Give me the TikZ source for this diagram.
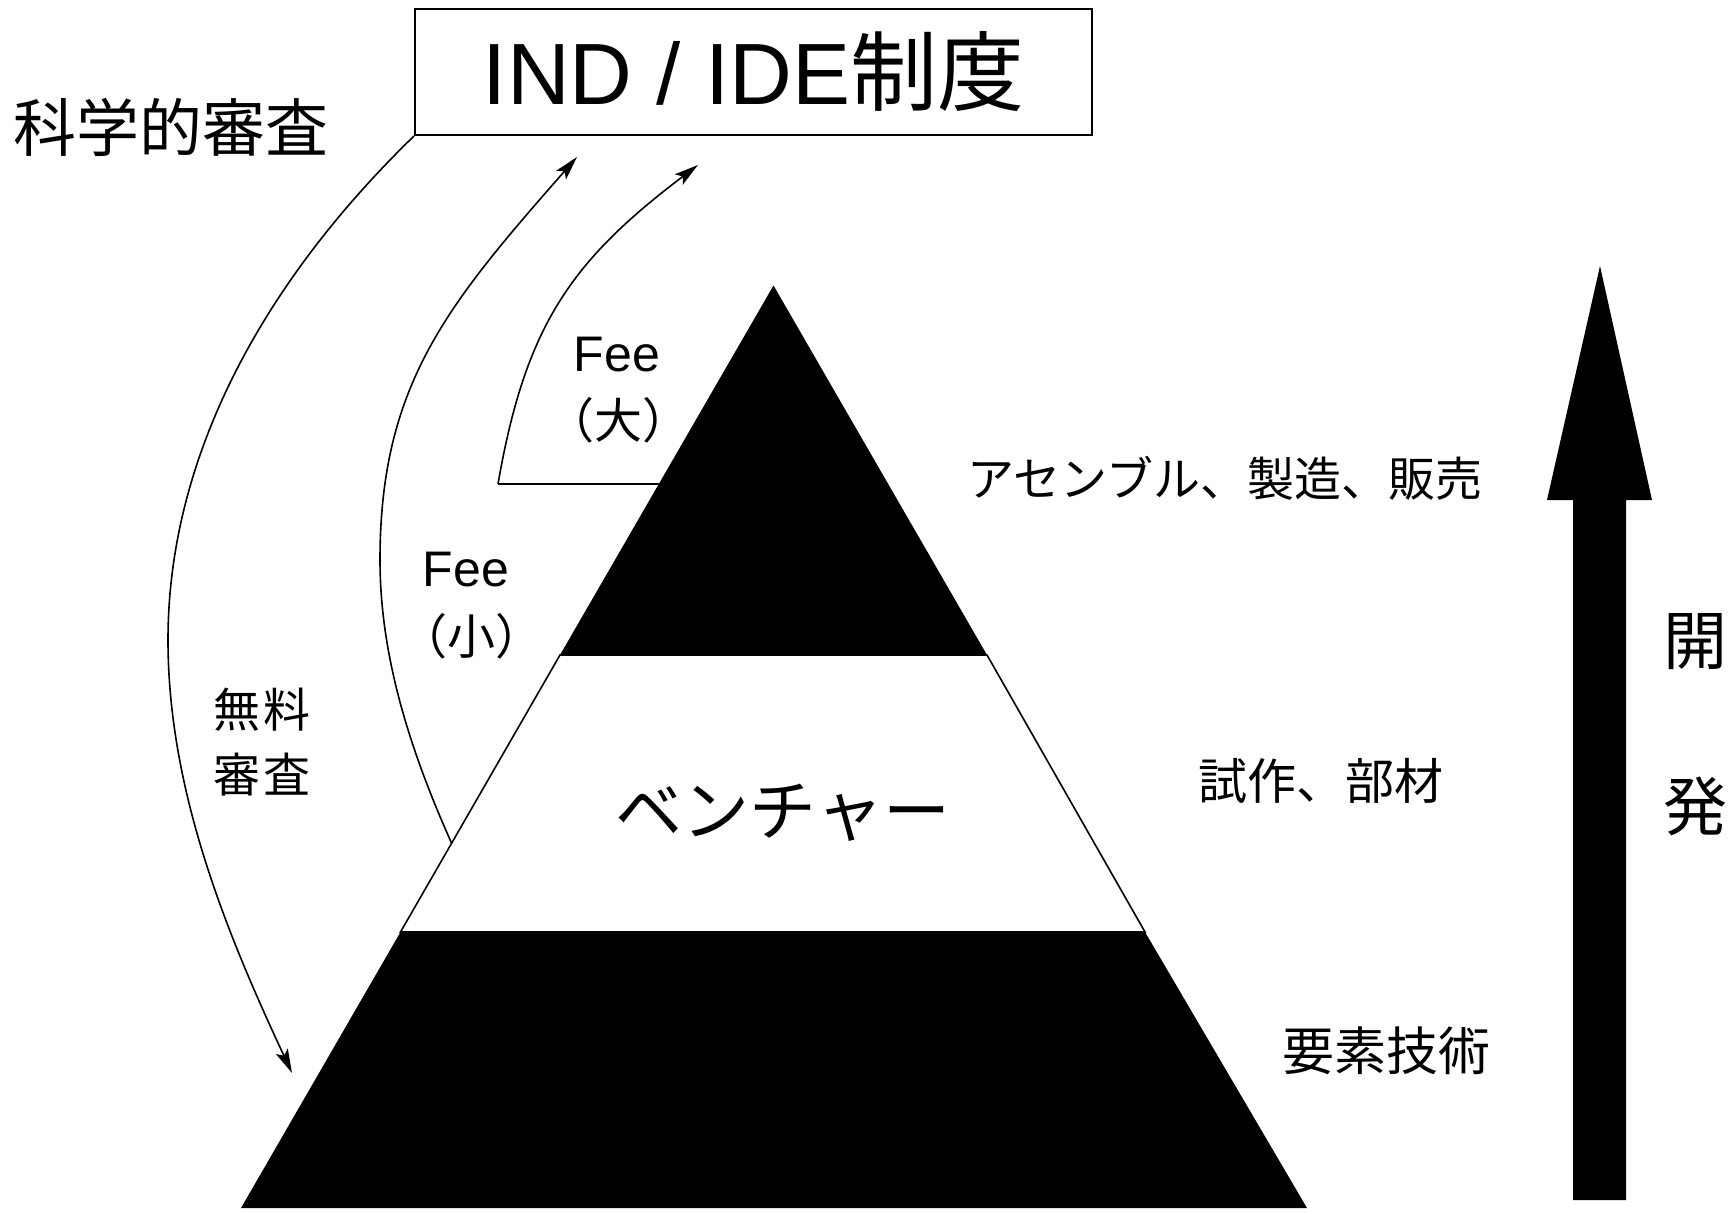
\documentclass[tikz,border=0pt]{standalone}
\usepackage{fontspec}
\setmainfont{Noto Sans CJK JP}
\newfontfamily\latinsans{Liberation Sans}
\usetikzlibrary{arrows.meta}
\begin{document}
\begin{tikzpicture}[x=1pt,y=-1pt,
  thinline/.style={line width=1.6pt},
  arr/.style={thinline,-{Stealth[length=24pt,width=13pt,inset=5pt]}},
  lbl/.style={inner sep=0pt,anchor=center}]
\useasboundingbox (0,0) rectangle (1735,1213);
% pyramid
\coordinate (apex) at (773.5,285.5);
\coordinate (l1) at (560,655);
\coordinate (r1) at (987,655);
\coordinate (l2) at (400.5,932);
\coordinate (r2) at (1145,932);
\coordinate (bl) at (241,1208);
\coordinate (br) at (1307,1208);
\fill[black] (apex) -- (l1) -- (r1) -- cycle;
\fill[black] (l2) -- (bl) -- (br) -- (r2) -- cycle;
\draw[thinline] (l1) -- (l2) -- (r2) -- (r1) -- cycle;
% box
\node[draw,line width=2pt,minimum width=677pt,minimum height=126pt,inner sep=0pt] (box) at (753.5,72)
  {\fontsize{87pt}{87pt}\selectfont {\latinsans IND / IDE}制度};
% left label
\node[lbl] (kagaku) at (171,127) {\fontsize{63pt}{63pt}\selectfont 科学的審査};
% arcs
\coordinate (a1s) at (box.south west);
\coordinate (a1m) at (168,640);
\coordinate (a1e) at (292,1073);
\draw[arr] (a1s) .. controls (273.7,272) and (168,446) .. (a1m)
  .. controls (168,792) and (227.8,935.5) .. (a1e);
\coordinate (a2s) at (451.5,843);
\coordinate (a2m) at (380,560);
\coordinate (a2e) at (577,157);
\draw[arr] (a2s) .. controls (411.4,753.2) and (380,658.4) .. (a2m)
  .. controls (380,385) and (447,305) .. (a2e);
\coordinate (a3c) at (498,484);
\coordinate (a3p) at (659,484);
\coordinate (a3e) at (698,165);
\draw[thinline] (a3p) -- (a3c);
\draw[arr] (a3c) .. controls (525.5,325.4) and (571,261.1) .. (a3e);
% fee labels
\node[lbl] (fee1) at (617,355) {\fontsize{50pt}{50pt}\selectfont\latinsans Fee};
\node[lbl] (fee1b) at (618,420) {\fontsize{48pt}{48pt}\selectfont （大）};
\node[lbl] (fee2) at (466,570) {\fontsize{50pt}{50pt}\selectfont\latinsans Fee};
\node[lbl] (fee2b) at (471,636) {\fontsize{48pt}{48pt}\selectfont （小）};
\node[lbl,align=center,font=\fontsize{47pt}{65pt}\selectfont] (muryo) at (262,742) {無\kern4pt 料\\審\kern4pt 査};
% venture
\node[lbl] (venture) at (783,813) {\fontsize{67pt}{67pt}\selectfont ベンチャー};
% right labels
\node[lbl] (t1) at (1225,478) {\fontsize{47pt}{47pt}\selectfont アセンブル、製造、販売};
\node[lbl] (t2) at (1321,781) {\fontsize{49pt}{49pt}\selectfont 試作、部材};
\node[lbl] (t3) at (1386,1051) {\fontsize{52pt}{52pt}\selectfont 要素技術};
% big arrow
\coordinate (ba) at (1600,266);
\fill[black] (1573,1200) -- (1573,500) -- (1547,500) -- (ba) -- (1652,500) -- (1626,500) -- (1626,1200) -- cycle;
\node[lbl] (kai) at (1695,642) {\fontsize{64pt}{64pt}\selectfont 開};
\node[lbl] (hatsu) at (1695,806) {\fontsize{64pt}{64pt}\selectfont 発};
\end{tikzpicture}
\end{document}
